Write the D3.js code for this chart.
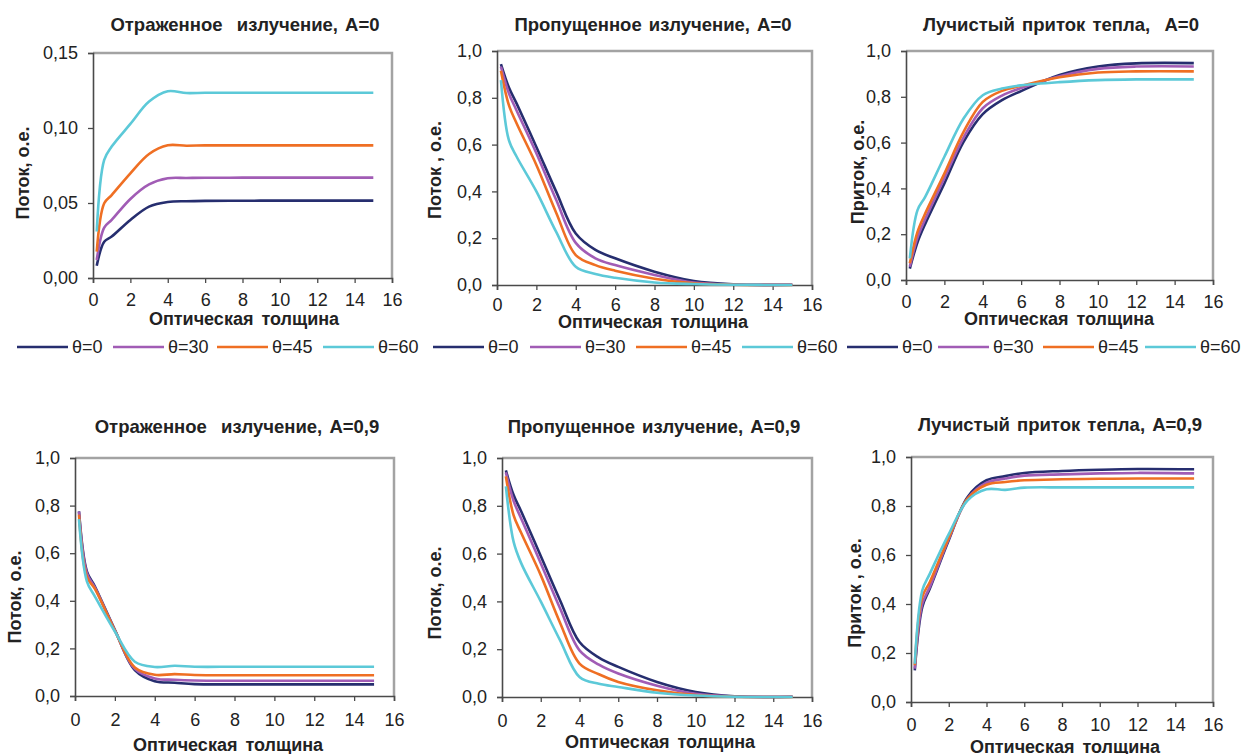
<!DOCTYPE html>
<html>
<head>
<meta charset="utf-8">
<script src="https://cdn.jsdelivr.net/npm/d3@7"></script>
<style>
  body { margin: 0; background: #fff; }
  svg { display: block; }
  text { font-family: "Liberation Sans", Arial, sans-serif; fill: #222; }
</style>
</head>
<body>
<svg id="chart" width="1243" height="754"></svg>
<script>
// Optical thickness grid shared by every curve
const tau = [0.2, 0.6, 1, 2, 3, 4, 5, 6, 8, 10, 12, 15];

// Zenith angles of the incident beam
const seriesNames = ["θ=0", "θ=30", "θ=45", "θ=60"];
const seriesColors = ["#262e6f", "#a15cb5", "#ef6f23", "#5cc9d8"];

const xTicks = [0, 2, 4, 6, 8, 10, 12, 14, 16];
const yTicksReflA0 = [0, 0.05, 0.10, 0.15];
const yTicksUnit = [0, 0.2, 0.4, 0.6, 0.8, 1.0];

// Reflected flux, surface albedo A=0 (one row per angle)
const reflectedA0 = [
  [0.0082, 0.0242, 0.0276, 0.0387, 0.0476, 0.0507, 0.0512, 0.0514, 0.0515, 0.0516, 0.0516, 0.0516],
  [0.0120, 0.0336, 0.0387, 0.0527, 0.0624, 0.0665, 0.0667, 0.0668, 0.0669, 0.0669, 0.0669, 0.0669],
  [0.0176, 0.0498, 0.0553, 0.0698, 0.0827, 0.0885, 0.0882, 0.0884, 0.0884, 0.0884, 0.0884, 0.0884],
  [0.0310, 0.0787, 0.0876, 0.1027, 0.1176, 0.1245, 0.1233, 0.1235, 0.1235, 0.1235, 0.1235, 0.1235]
];

// Transmitted flux, A=0
const transmittedA0 = [
  [0.944, 0.845, 0.775, 0.590, 0.400, 0.220, 0.150, 0.114, 0.057, 0.017, 0.003, 0.001],
  [0.933, 0.820, 0.745, 0.563, 0.365, 0.180, 0.114, 0.085, 0.043, 0.010, 0.002, 0.001],
  [0.916, 0.770, 0.690, 0.513, 0.310, 0.128, 0.085, 0.061, 0.027, 0.007, 0.001, 0.000],
  [0.876, 0.620, 0.548, 0.400, 0.228, 0.078, 0.047, 0.031, 0.011, 0.004, 0.001, 0.000]
];

// Radiative heat input, A=0
const heatingA0 = [
  [0.050, 0.165, 0.245, 0.422, 0.603, 0.724, 0.785, 0.825, 0.895, 0.932, 0.946, 0.947],
  [0.058, 0.185, 0.265, 0.445, 0.622, 0.750, 0.805, 0.838, 0.890, 0.922, 0.932, 0.932],
  [0.073, 0.210, 0.290, 0.465, 0.647, 0.778, 0.826, 0.848, 0.885, 0.906, 0.911, 0.911],
  [0.094, 0.305, 0.363, 0.538, 0.705, 0.807, 0.836, 0.850, 0.864, 0.873, 0.876, 0.876]
];

// Reflected flux, A=0.9
const reflectedA09 = [
  [0.776, 0.523, 0.460, 0.278, 0.109, 0.062, 0.056, 0.050, 0.049, 0.049, 0.049, 0.049],
  [0.775, 0.515, 0.455, 0.276, 0.114, 0.074, 0.068, 0.065, 0.064, 0.064, 0.064, 0.064],
  [0.762, 0.500, 0.450, 0.275, 0.120, 0.089, 0.092, 0.088, 0.087, 0.087, 0.087, 0.087],
  [0.743, 0.481, 0.418, 0.271, 0.144, 0.122, 0.127, 0.123, 0.123, 0.123, 0.123, 0.123]
];

// Transmitted flux, A=0.9
const transmittedA09 = [
  [0.948, 0.845, 0.775, 0.590, 0.404, 0.230, 0.165, 0.126, 0.063, 0.021, 0.003, 0.001],
  [0.940, 0.820, 0.745, 0.560, 0.370, 0.195, 0.135, 0.098, 0.047, 0.013, 0.002, 0.001],
  [0.923, 0.760, 0.685, 0.510, 0.310, 0.140, 0.095, 0.063, 0.028, 0.008, 0.001, 0.000],
  [0.881, 0.649, 0.558, 0.400, 0.237, 0.084, 0.055, 0.042, 0.018, 0.006, 0.001, 0.000]
];

// Radiative heat input, A=0.9
const heatingA09 = [
  [0.129, 0.388, 0.463, 0.660, 0.837, 0.905, 0.922, 0.935, 0.943, 0.948, 0.951, 0.950],
  [0.136, 0.401, 0.470, 0.665, 0.830, 0.895, 0.912, 0.924, 0.929, 0.933, 0.935, 0.933],
  [0.150, 0.429, 0.490, 0.670, 0.830, 0.887, 0.898, 0.905, 0.909, 0.911, 0.912, 0.912],
  [0.156, 0.456, 0.524, 0.685, 0.823, 0.868, 0.866, 0.875, 0.876, 0.876, 0.876, 0.876]
];

// Layout of the six panels (plot box edges and label anchors, in px)
const panels = [
  { title: "Отраженное  излучение, A=0", ylabel: "Поток, о.е.", data: reflectedA0,
    yTicks: yTicksReflA0, yMax: 0.15, digits: 2,
    left: 93, right: 392, top: 53, bottom: 278, xPad: 10,
    titleX: 245, titleY: 31, ylabX: 23, ylabY: 173, xlabX: 244, xlabY: 325,
    legendX: 17, legendOffsets: [0, 96, 200, 306] },
  { title: "Пропущенное излучение, A=0", ylabel: "Поток , о.е.", data: transmittedA0,
    yTicks: yTicksUnit, yMax: 1, digits: 1,
    left: 497, right: 812, top: 51, bottom: 285, xPad: 8,
    titleX: 653, titleY: 31, ylabX: 435, ylabY: 170, xlabX: 653, xlabY: 328,
    legendX: 433, legendOffsets: [0, 97, 203, 309] },
  { title: "Лучистый приток тепла,  A=0", ylabel: "Приток, о.е.", data: heatingA0,
    yTicks: yTicksUnit, yMax: 1, digits: 1,
    left: 906, right: 1213, top: 51, bottom: 280, xPad: 10,
    titleX: 1061, titleY: 31, ylabX: 858, ylabY: 172, xlabX: 1059, xlabY: 325,
    legendX: 847, legendOffsets: [0, 91, 196, 298] },
  { title: "Отраженное  излучение, A=0,9", ylabel: "Поток, о.е.", data: reflectedA09,
    yTicks: yTicksUnit, yMax: 1, digits: 1,
    left: 75, right: 394, top: 458, bottom: 696, xPad: 12,
    titleX: 237, titleY: 433, ylabX: 15, ylabY: 597, xlabX: 228, xlabY: 751 },
  { title: "Пропущенное излучение, A=0,9", ylabel: "Поток, о.е.", data: transmittedA09,
    yTicks: yTicksUnit, yMax: 1, digits: 1,
    left: 502, right: 812, top: 458, bottom: 697, xPad: 12,
    titleX: 654, titleY: 433, ylabX: 435, ylabY: 593, xlabX: 660, xlabY: 748 },
  { title: "Лучистый приток тепла, A=0,9", ylabel: "Приток , о.е.", data: heatingA09,
    yTicks: yTicksUnit, yMax: 1, digits: 1,
    left: 911, right: 1213, top: 457, bottom: 702, xPad: 11,
    titleX: 1060, titleY: 431, ylabX: 855, ylabY: 593, xlabX: 1065, xlabY: 753 }
];

const legendY = 347;
const svg = d3.select("#chart");

panels.forEach(p => {
  const x = d3.scaleLinear().domain([0, 16]).range([p.left, p.right]);
  const y = d3.scaleLinear().domain([0, p.yMax]).range([p.bottom, p.top]);
  const g = svg.append("g");

  // grey frame on the top and right edges
  g.append("path")
    .attr("d", `M${p.left},${p.top}H${p.right}V${p.bottom}`)
    .attr("fill", "none").attr("stroke", "#a3a3a3").attr("stroke-width", 2.5);

  const fmt = v => v.toFixed(p.digits).replace(".", ",");

  const ax = g.append("g").attr("transform", `translate(0,${p.bottom})`)
    .call(d3.axisBottom(x).tickValues(xTicks).tickSize(5).tickPadding(p.xPad).tickFormat(d => d));
  const ay = g.append("g").attr("transform", `translate(${p.left},0)`)
    .call(d3.axisLeft(y).tickValues(p.yTicks).tickSize(5).tickPadding(10).tickFormat(fmt));
  [ax, ay].forEach(a => {
    a.select(".domain").attr("stroke", "#4a4a4a").attr("stroke-width", 1.6);
    a.selectAll(".tick line").attr("stroke", "#4a4a4a").attr("stroke-width", 1.3);
    a.selectAll(".tick text").attr("font-size", 18).attr("fill", "#2a2a2a")
      .attr("font-family", "\"Liberation Sans\", Arial, sans-serif");
  });

  const line = d3.line()
    .x((d, i) => x(tau[i]))
    .y(d => y(d))
    .curve(d3.curveCatmullRom.alpha(0.5));

  p.data.forEach((vals, s) => {
    g.append("path").datum(vals)
      .attr("d", line)
      .attr("fill", "none")
      .attr("stroke", seriesColors[s])
      .attr("stroke-width", 2.6)
      .attr("stroke-linejoin", "round");
  });

  g.append("text").attr("x", p.titleX).attr("y", p.titleY)
    .attr("text-anchor", "middle").attr("font-weight", "bold").attr("font-size", 18.5)
    .style("white-space", "pre").attr("word-spacing", 2)
    .text(p.title);

  g.append("text").attr("x", p.xlabX).attr("y", p.xlabY)
    .attr("text-anchor", "middle").attr("font-weight", "bold").attr("font-size", 18)
    .attr("word-spacing", 3)
    .text("Оптическая толщина");

  g.append("text")
    .attr("transform", `translate(${p.ylabX},${p.ylabY}) rotate(-90)`)
    .attr("text-anchor", "middle").attr("dy", "0.35em")
    .attr("font-weight", "bold").attr("font-size", 18)
    .style("white-space", "pre")
    .text(p.ylabel);

  if (p.legendX !== undefined) {
    seriesNames.forEach((name, s) => {
      const lx = p.legendX + p.legendOffsets[s];
      svg.append("line")
        .attr("x1", lx).attr("x2", lx + 51)
        .attr("y1", legendY).attr("y2", legendY)
        .attr("stroke", seriesColors[s]).attr("stroke-width", 2.6);
      svg.append("text")
        .attr("x", lx + 55).attr("y", legendY).attr("dy", "0.36em")
        .attr("font-size", 18).attr("fill", "#2a2a2a")
        .text(name);
    });
  }
});
</script>
</body>
</html>
